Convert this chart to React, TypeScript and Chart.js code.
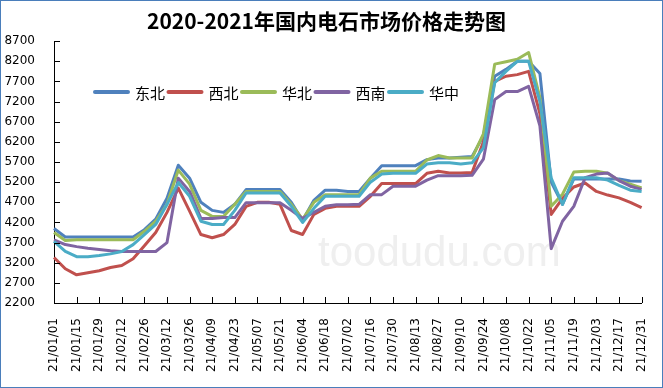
import React, { useEffect, useRef } from "react";
import { Chart, registerables } from "chart.js";

Chart.register(...registerables);

const TITLE = "2020-2021年国内电石市场价格走势图";

// weekly sample dates (every 7 days), labels shown every 14 days
const dates: string[] = [
  "21/01/01","21/01/08","21/01/15","21/01/22","21/01/29","21/02/05","21/02/12","21/02/19","21/02/26","21/03/05",
  "21/03/12","21/03/19","21/03/26","21/04/02","21/04/09","21/04/16","21/04/23","21/04/30","21/05/07","21/05/14",
  "21/05/21","21/05/28","21/06/04","21/06/11","21/06/18","21/06/25","21/07/02","21/07/09","21/07/16","21/07/23",
  "21/07/30","21/08/06","21/08/13","21/08/20","21/08/27","21/09/03","21/09/10","21/09/17","21/09/24","21/10/01",
  "21/10/08","21/10/15","21/10/22","21/10/29","21/11/05","21/11/12","21/11/19","21/11/26","21/12/03","21/12/10",
  "21/12/17","21/12/24","21/12/31",
];

const seriesNames = ["东北", "西北", "华北", "西南", "华中"];
const seriesColors = ["#4F81BD", "#C0504D", "#9BBB59", "#8064A2", "#4BACC6"];

const dongbei: number[] = [
  4050, 3840, 3840, 3840, 3840, 3840, 3840, 3840, 4020, 4280,
  4800, 5620, 5300, 4700, 4500, 4450, 4650, 5015, 5015, 5015,
  5015, 4700, 4250, 4750, 5000, 5000, 4970, 4970, 5300, 5610,
  5610, 5610, 5610, 5760, 5800, 5800, 5820, 5840, 6350, 7830,
  8000, 8200, 8200, 7900, 5200, 4650, 5280, 5280, 5280, 5280,
  5280, 5230, 5220,
];

const xibei: number[] = [
  3330, 3050, 2900, 2950, 3000, 3080, 3130, 3300, 3620, 3950,
  4450, 5050, 4480, 3900, 3820, 3900, 4150, 4600, 4700, 4700,
  4650, 4000, 3900, 4400, 4550, 4600, 4600, 4600, 4850, 5165,
  5165, 5165, 5165, 5420, 5470, 5430, 5430, 5440, 6200, 7700,
  7830, 7870, 7950, 6900, 4400, 4800, 5080, 5180, 4970, 4880,
  4810, 4700, 4570,
];

const huabei: number[] = [
  3950, 3750, 3770, 3770, 3770, 3770, 3770, 3770, 3980, 4230,
  4650, 5500, 5150, 4500, 4350, 4350, 4650, 4970, 4970, 4970,
  4970, 4650, 4280, 4700, 4890, 4890, 4890, 4890, 5300, 5470,
  5470, 5470, 5470, 5750, 5860, 5800, 5800, 5800, 6400, 8130,
  8190, 8250, 8420, 7300, 4600, 4900, 5450, 5470, 5470, 5420,
  5240, 5150, 5060,
];

const xinan: number[] = [
  3770, 3650, 3600, 3560, 3530, 3500, 3480, 3480, 3480, 3480,
  3700, 5300, 4970, 4300, 4300, 4320, 4320, 4690, 4690, 4690,
  4690, 4500, 4300, 4450, 4600, 4640, 4640, 4650, 4890, 4890,
  5100, 5100, 5100, 5250, 5360, 5360, 5360, 5370, 5770, 7250,
  7450, 7450, 7580, 6600, 3550, 4230, 4600, 5310, 5400, 5430,
  5240, 5100, 5020,
];

const huazhong: number[] = [
  3730, 3480, 3350, 3350, 3380, 3420, 3480, 3650, 3900, 4150,
  4650, 5190, 4850, 4230, 4150, 4150, 4500, 4930, 4930, 4930,
  4930, 4600, 4200, 4550, 4850, 4850, 4850, 4850, 5200, 5400,
  5420, 5420, 5420, 5650, 5680, 5680, 5650, 5680, 6050, 7670,
  7950, 8200, 8200, 7200, 5300, 4650, 5310, 5310, 5310, 5250,
  5120, 5000, 4970,
];

const Y_MIN = 2200;
const Y_MAX = 8700;
const Y_STEP = 500;

const seriesValues = [dongbei, xibei, huabei, xinan, huazhong];

// Excel-style tick marks drawn inside the plot area
const innerTicks = {
  id: "innerTicks",
  afterDraw(chart: any) {
    const ctx = chart.ctx;
    const area = chart.chartArea;
    const xs = chart.scales.x;
    const ys = chart.scales.y;
    ctx.save();
    ctx.strokeStyle = "#000";
    ctx.lineWidth = 1;
    ctx.beginPath();
    ys.ticks.forEach((t: any) => {
      const y = Math.round(ys.getPixelForValue(t.value)) + 0.5;
      ctx.moveTo(area.left, y);
      ctx.lineTo(area.left + 6, y);
    });
    for (let i = 0; i < dates.length; i += 2) {
      const x = Math.round(xs.getPixelForValue(i)) + 0.5;
      ctx.moveTo(x, area.bottom);
      ctx.lineTo(x, area.bottom - 6);
    }
    ctx.stroke();
    ctx.restore();
  },
};

const insideLegend = {
  id: "insideLegend",
  afterDraw(chart: any) {
    const ctx = chart.ctx;
    ctx.save();
    const y = 92;
    let x = 95;
    const step = 73.5;
    chart.data.datasets.forEach((ds: any) => {
      ctx.strokeStyle = ds.borderColor;
      ctx.lineWidth = 4;
      ctx.lineCap = "round";
      ctx.beginPath();
      ctx.moveTo(x, y);
      ctx.lineTo(x + 33, y);
      ctx.stroke();
      ctx.fillStyle = "#000";
      ctx.font = "15px 'Noto Sans CJK SC'";
      ctx.textBaseline = "middle";
      ctx.textAlign = "left";
      ctx.fillText(ds.label, x + 40, y + 1);
      x += step;
    });
    ctx.restore();
  },
};

const watermark = {
  id: "watermark",
  beforeDatasetsDraw(chart: any) {
    const ctx = chart.ctx;
    ctx.save();
    ctx.fillStyle = "#efefef";
    ctx.font = "42px 'Liberation Sans'";
    ctx.textBaseline = "middle";
    ctx.textAlign = "left";
    ctx.fillText("toodudu.com", 318, 254);
    ctx.restore();
  },
};

export default function App() {
  const canvasRef = useRef<HTMLCanvasElement | null>(null);

  useEffect(() => {
    if (!canvasRef.current) return;
    const chart = new Chart(canvasRef.current, {
      type: "line",
      data: {
        labels: dates,
        datasets: seriesNames.map((name, i) => ({
          label: name,
          data: seriesValues[i],
          borderColor: seriesColors[i],
          backgroundColor: seriesColors[i],
          borderWidth: 3,
          pointRadius: 0,
          tension: 0,
          borderJoinStyle: "round" as const,
          order: seriesNames.length - i,
        })),
      },
      options: {
        animation: false,
        responsive: false,
        layout: { padding: { left: 0, right: 10, top: 0, bottom: 0 } },
        plugins: {
          legend: { display: false },
          tooltip: { enabled: false },
          title: {
            display: true,
            text: TITLE,
            color: "#000",
            font: { size: 21, weight: "bold", family: "'Noto Sans CJK SC'" },
            padding: { top: 8, bottom: 8 },
          },
        },
        scales: {
          x: {
            type: "category",
            offset: false,
            grid: { display: false },
            border: { display: true, color: "#000", width: 1 },
            ticks: {
              autoSkip: false,
              maxRotation: 90,
              minRotation: 90,
              color: "#000",
              padding: 7,
              font: { size: 12, family: "'DejaVu Sans'" },
              callback: (_v: any, idx: number) => (idx % 2 === 0 ? dates[idx] : null),
            },
            afterFit: (scale: any) => {
              scale.height = 85;
            },
          },
          y: {
            min: Y_MIN,
            max: Y_MAX,
            grid: { display: false },
            border: { display: true, color: "#000", width: 1 },
            ticks: {
              stepSize: Y_STEP,
              color: "#000",
              padding: 11,
              font: { size: 12, family: "'DejaVu Sans'" },
              callback: (v: any) => String(v),
            },
            afterFit: (scale: any) => {
              scale.width = 54;
            },
          },
        },
      },
      plugins: [watermark, innerTicks, insideLegend],
    });
    return () => chart.destroy();
  }, []);

  return (
    <div style={{ position: "fixed", left: 0, top: 0, width: 663, height: 388, background: "#fff" }}>
      <canvas ref={canvasRef} width={663} height={388} style={{ display: "block" }} />
      <div
        style={{
          position: "absolute",
          left: 0,
          top: 0,
          width: 663,
          height: 388,
          boxSizing: "border-box",
          border: "1px solid #4A7EBB",
          pointerEvents: "none",
        }}
      />
    </div>
  );
}
